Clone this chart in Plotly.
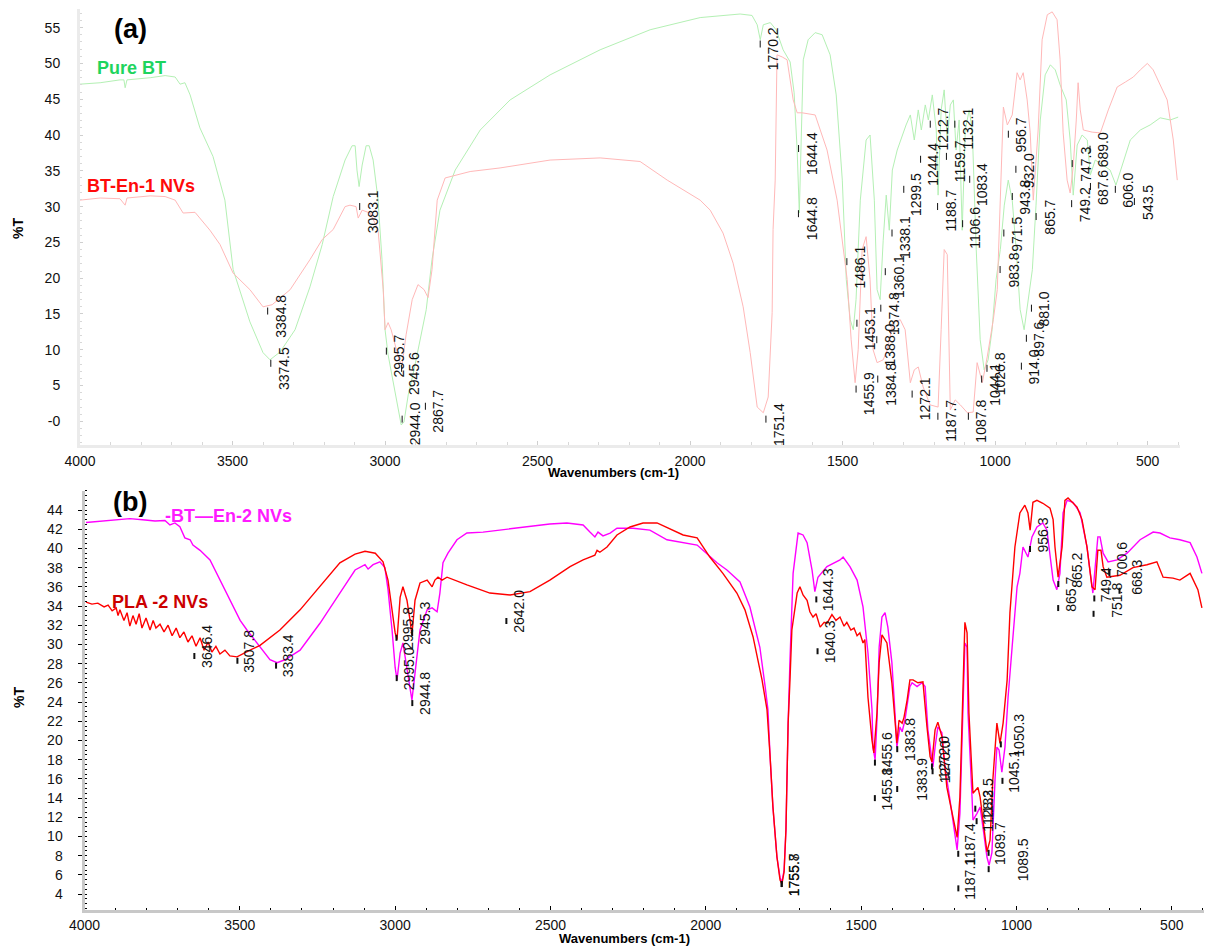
import plotly.graph_objects as go

# ---------------- panel (a): Pure BT and BT-En-1 NVs ----------------
a_pure_wn = [4000, 3934, 3869, 3856, 3852, 3846, 3770, 3721, 3688, 3672,
             3656, 3639, 3607, 3564, 3525, 3498, 3443, 3400, 3377, 3344,
             3295, 3246, 3206, 3170, 3131, 3108, 3098, 3092, 3085, 3075,
             3062, 3052, 3039, 3023, 3010, 3000, 2990, 2977, 2961, 2947,
             2938, 2924, 2905, 2885, 2865, 2846, 2820, 2770, 2688, 2590,
             2459, 2295, 2131, 1967, 1836, 1797, 1780, 1770, 1760, 1737,
             1718, 1695, 1672, 1659, 1649, 1642, 1636, 1629, 1613, 1590,
             1567, 1541, 1521, 1501, 1488, 1475, 1465, 1456, 1442, 1423,
             1410, 1396, 1387, 1377, 1367, 1357, 1347, 1337, 1321, 1305,
             1292, 1278, 1265, 1252, 1242, 1229, 1219, 1206, 1193, 1187,
             1177, 1167, 1157, 1147, 1137, 1128, 1118, 1108, 1098, 1085,
             1075, 1062, 1049, 1036, 1023, 1010, 997, 983, 970, 957,
             944, 931, 918, 905, 891, 878, 866, 852, 836, 819,
             803, 787, 767, 754, 744, 731, 715, 698, 688, 672,
             646, 623, 604, 583, 557, 524, 492, 459, 426, 400]
a_pure_T = [47.1, 47.3, 47.7, 47.7, 46.6, 47.7, 48.0, 48.3, 48.1, 47.1,
            47.3, 45.6, 41.0, 37.0, 30.9, 21.2, 13.9, 9.6, 8.6, 9.7,
            12.8, 18.8, 24.7, 31.4, 36.5, 38.5, 38.5, 35.1, 32.8, 35.8,
            38.5, 38.5, 36.5, 31.0, 22.6, 12.8, 9.3, 6.5, 3.0, -0.5,
            -0.1, 3.7, 7.2, 11.4, 15.6, 22.6, 29.5, 35.1, 40.7, 44.9,
            48.4, 51.9, 54.7, 56.4, 56.9, 56.7, 55.4, 53.3, 55.4, 55.7,
            54.7, 51.9, 50.2, 45.9, 37.9, 29.1, 37.9, 50.5, 53.3, 54.3,
            54.0, 51.2, 45.6, 33.7, 19.8, 14.2, 12.8, 17.0, 30.9, 39.3,
            40.0, 30.9, 18.4, 17.0, 25.3, 31.6, 26.7, 35.1, 37.9, 40.0,
            41.4, 42.8, 39.3, 43.5, 40.7, 44.2, 42.1, 45.6, 40.7, 31.6,
            43.5, 46.3, 39.3, 44.2, 44.9, 37.9, 42.1, 26.7, 40.7, 43.5,
            40.7, 24.0, 11.4, 7.2, 8.6, 12.8, 19.8, 24.0, 30.2, 33.7,
            30.9, 24.0, 15.6, 12.8, 17.0, 21.2, 30.2, 42.1, 48.4, 49.8,
            49.1, 47.0, 44.9, 39.3, 31.6, 38.6, 40.0, 39.3, 34.4, 36.5,
            35.8, 35.1, 33.0, 35.8, 39.3, 40.7, 41.4, 42.4, 42.1, 42.5]

a_en1_wn = [4000, 3934, 3869, 3852, 3846, 3770, 3721, 3688, 3662, 3623,
            3574, 3541, 3498, 3443, 3400, 3370, 3311, 3246, 3206, 3170,
            3131, 3115, 3095, 3088, 3075, 3049, 3023, 3006, 3000, 2990,
            2980, 2967, 2954, 2944, 2931, 2911, 2892, 2872, 2859, 2846,
            2829, 2803, 2721, 2623, 2459, 2295, 2164, 2075, 1967, 1934,
            1892, 1859, 1826, 1803, 1780, 1760, 1744, 1731, 1728, 1721,
            1715, 1698, 1682, 1662, 1649, 1633, 1590, 1551, 1518, 1485,
            1472, 1459, 1449, 1436, 1423, 1410, 1400, 1387, 1367, 1354,
            1334, 1311, 1295, 1278, 1265, 1252, 1236, 1213, 1187, 1177,
            1167, 1157, 1147, 1131, 1114, 1091, 1072, 1059, 1042, 1026,
            1006, 993, 983, 973, 960, 944, 928, 918, 908, 895,
            885, 875, 859, 846, 829, 813, 797, 787, 777, 764,
            754, 744, 734, 728, 721, 711, 682, 655, 629, 600,
            573, 547, 524, 501, 482, 459, 436, 416, 403]
a_en1_T = [30.9, 31.2, 31.1, 30.2, 31.2, 31.5, 31.4, 30.9, 29.1, 29.2,
           26.7, 24.7, 20.7, 18.4, 16.0, 16.3, 18.4, 22.6, 25.4, 26.8,
           30.0, 30.2, 30.0, 28.4, 29.5, 29.1, 26.8, 18.4, 12.8, 13.8,
           12.8, 10.7, 8.6, 7.9, 12.1, 17.0, 19.1, 18.4, 17.3, 21.2,
           30.9, 34.0, 34.9, 35.4, 36.5, 36.8, 36.3, 33.7, 30.9, 29.5,
           26.3, 22.1, 16.0, 9.6, 2.0, 1.2, 3.4, 15.2, 26.8, 33.7,
           51.2, 50.9, 50.5, 44.9, 43.1, 43.1, 42.8, 37.9, 30.9, 19.8,
           11.4, 5.4, 10.0, 24.0, 25.8, 19.8, 10.0, 8.2, 8.6, 10.0,
           13.8, 14.2, 12.8, 5.4, 7.2, 7.6, 4.8, 2.3, 2.0, 12.8,
           24.0, 23.3, 1.6, 3.0, 2.3, 1.2, 1.3, 8.2, 5.4, 9.0,
           14.2, 18.4, 32.3, 43.9, 41.4, 42.8, 48.7, 47.7, 48.7, 44.9,
           40.3, 30.9, 40.7, 53.3, 56.8, 57.2, 56.1, 50.5, 40.3, 33.7,
           31.9, 35.6, 42.1, 47.3, 43.5, 40.7, 40.4, 40.3, 43.5, 46.7,
           47.4, 48.1, 49.1, 50.0, 49.1, 47.0, 44.9, 39.3, 33.7]

a_peak_wn = [3384.8, 3374.5, 3083.1, 2995.7, 2944.0, 2945.6, 2867.7, 1770.2, 1751.4, 1644.4,
             1644.8, 1486.1, 1455.9, 1453.1, 1388.0, 1384.8, 1374.8, 1360.1, 1338.1, 1299.5,
             1272.1, 1244.4, 1212.7, 1188.7, 1187.7, 1159.7, 1132.1, 1106.6, 1083.4, 1087.8,
             1044.1, 1026.8, 983.8, 971.5, 956.7, 943.8, 932.0, 914.0, 897.6, 881.0,
             865.7, 749.2, 747.3, 689.0, 687.6, 606.0, 543.5]
a_peak_T = [15.9, 8.6, 30.5, 10.3, 0.8, 7.9, 2.6, 53.2, 0.8, 38.6,
            29.5, 22.8, 5.0, 14.2, 11.9, 6.4, 16.3, 21.4, 26.8, 32.9,
            4.3, 37.1, 42.0, 30.5, 1.2, 37.5, 42.0, 28.1, 34.3, 1.2,
            6.4, 7.9, 21.7, 26.8, 40.6, 31.9, 35.7, 8.2, 12.1, 16.3,
            29.1, 30.9, 36.5, 38.5, 33.3, 32.9, 31.2]

a_xticks = [4000, 3500, 3000, 2500, 2000, 1500, 1000, 500]
a_yticks = [0, 5, 10, 15, 20, 25, 30, 35, 40, 45, 50, 55]
a_yticktext = ["-0", "5", "10", "15", "20", "25", "30", "35", "40", "45", "50", "55"]

# ---------------- panel (b): BT-En-2 NVs and PLA-2 NVs ----------------
b_en2_wn = [3995, 3950, 3902, 3854, 3805, 3773, 3741, 3725, 3709, 3693,
            3677, 3660, 3651, 3628, 3596, 3564, 3532, 3499, 3477, 3445,
            3403, 3380, 3355, 3306, 3242, 3178, 3129, 3097, 3087, 3071,
            3049, 3033, 3023, 3010, 3000, 2994, 2984, 2975, 2962, 2946,
            2936, 2920, 2897, 2881, 2865, 2856, 2846, 2830, 2801, 2769,
            2717, 2608, 2502, 2447, 2395, 2373, 2357, 2347, 2331, 2308,
            2286, 2234, 2180, 2125, 2073, 2028, 2009, 1964, 1932, 1890,
            1858, 1826, 1809, 1800, 1793, 1784, 1771, 1761, 1755, 1748,
            1742, 1739, 1735, 1729, 1719, 1703, 1687, 1674, 1658, 1649,
            1639, 1610, 1568, 1558, 1536, 1513, 1494, 1478, 1465, 1462,
            1455, 1449, 1442, 1433, 1423, 1414, 1401, 1391, 1385, 1375,
            1368, 1359, 1352, 1343, 1336, 1320, 1304, 1294, 1285, 1275,
            1269, 1262, 1253, 1240, 1230, 1214, 1198, 1191, 1182, 1172,
            1166, 1159, 1156, 1143, 1140, 1127, 1117, 1108, 1095, 1088,
            1079, 1069, 1063, 1056, 1047, 1037, 1027, 1014, 998, 989,
            979, 963, 950, 934, 915, 902, 892, 882, 870, 860,
            850, 837, 818, 795, 773, 757, 754, 738, 731, 721,
            705, 676, 644, 602, 560, 538, 506, 474, 441, 419,
            403]
b_en2_T = [42.7, 42.85, 42.96, 43.1, 42.96, 42.85, 42.9, 42.44, 42.65, 42.26,
           41.1, 40.9, 40.35, 39.8, 38.8, 36.7, 34.6, 32.5, 31.5, 30.15,
           28.4, 28.1, 28.4, 29.4, 32.2, 35.35, 37.75, 38.3, 37.85, 38.3,
           38.6, 38.0, 35.7, 31.5, 27.6, 26.3, 29.1, 30.15, 27.6, 24.2,
           27.0, 31.5, 33.6, 33.8, 33.4, 35.35, 38.5, 39.5, 40.9, 41.6,
           41.7, 42.1, 42.54, 42.65, 42.44, 41.7, 41.2, 41.7, 41.3, 41.6,
           42.1, 42.1, 41.9, 40.9, 40.6, 40.35, 39.8, 38.5, 37.75, 36.5,
           33.9, 29.7, 25.6, 23.2, 18.3, 13.06, 7.85, 5.7, 5.25, 6.5,
           10.7, 16.6, 21.8, 28.4, 37.4, 41.6, 41.4, 40.6, 37.75, 35.5,
           37.0, 38.1, 38.8, 39.1, 38.1, 36.7, 33.9, 29.1, 23.2, 19.3,
           18.0, 22.1, 29.7, 32.85, 33.3, 31.8, 28.1, 22.85, 19.3, 21.4,
           20.9, 22.1, 23.5, 25.6, 26.0, 25.6, 26.0, 25.6, 21.1, 18.3,
           17.2, 19.3, 21.4, 20.8, 17.2, 13.8, 10.35, 8.6, 12.4, 22.85,
           30.15, 29.7, 22.85, 14.1, 11.7, 12.4, 13.06, 11.0, 7.85, 7.0,
           8.3, 15.9, 19.3, 19.0, 16.7, 19.3, 24.5, 29.7, 36.0, 37.4,
           40.15, 39.1, 41.2, 42.23, 42.65, 41.9, 39.1, 36.7, 35.7, 37.4,
           43.7, 45.0, 44.8, 43.7, 40.15, 36.0, 35.35, 41.2, 41.2, 39.5,
           38.6, 38.8, 39.5, 40.9, 41.7, 41.6, 41.1, 40.9, 40.6, 39.1,
           37.4]

b_pla_wn = [3995, 3976, 3957, 3937, 3924, 3911, 3898, 3892, 3886, 3873,
            3863, 3854, 3844, 3834, 3824, 3815, 3802, 3789, 3779, 3770,
            3757, 3744, 3731, 3718, 3705, 3693, 3680, 3667, 3654, 3641,
            3628, 3615, 3602, 3590, 3577, 3564, 3548, 3532, 3509, 3493,
            3467, 3435, 3371, 3306, 3242, 3178, 3129, 3097, 3064, 3039,
            3023, 3010, 3000, 2994, 2984, 2975, 2962, 2952, 2946, 2936,
            2920, 2897, 2881, 2872, 2862, 2849, 2833, 2769, 2695, 2630,
            2566, 2502, 2437, 2395, 2357, 2350, 2341, 2318, 2286, 2244,
            2202, 2157, 2073, 2028, 1987, 1945, 1900, 1874, 1848, 1819,
            1803, 1793, 1784, 1771, 1761, 1755, 1748, 1742, 1739, 1735,
            1729, 1723, 1706, 1697, 1687, 1674, 1665, 1655, 1645, 1632,
            1619, 1610, 1594, 1581, 1568, 1555, 1546, 1533, 1523, 1513,
            1504, 1494, 1488, 1478, 1465, 1459, 1449, 1442, 1433, 1417,
            1401, 1391, 1385, 1378, 1368, 1362, 1352, 1343, 1333, 1317,
            1301, 1288, 1278, 1272, 1262, 1253, 1240, 1224, 1204, 1191,
            1182, 1172, 1166, 1159, 1153, 1140, 1124, 1117, 1108, 1095,
            1085, 1076, 1063, 1059, 1053, 1043, 1030, 1021, 1005, 989,
            973, 963, 956, 947, 934, 915, 892, 882, 876, 866,
            853, 844, 834, 805, 789, 773, 757, 747, 738, 728,
            721, 709, 667, 625, 580, 548, 528, 496, 474, 441,
            425, 416, 403]
b_pla_T = [34.4, 34.2, 34.3, 33.9, 34.1, 33.5, 33.8, 33.0, 33.6, 32.5,
           33.3, 31.9, 33.0, 32.1, 33.2, 31.7, 32.75, 31.5, 32.5, 31.7,
           32.1, 31.3, 32.0, 30.9, 31.7, 30.7, 31.3, 30.25, 30.9, 29.8,
           30.7, 29.4, 30.25, 29.2, 29.8, 29.0, 29.4, 28.8, 28.7, 29.0,
           29.4, 29.9, 31.5, 33.6, 36.0, 38.5, 39.4, 39.7, 39.5, 38.6,
           36.7, 33.3, 31.2, 30.5, 34.9, 36.0, 34.6, 32.5, 31.0, 34.6,
           36.4, 36.7, 36.0, 36.7, 37.0, 36.7, 37.0, 36.2, 35.35, 35.15,
           35.5, 36.7, 38.1, 38.8, 39.3, 39.8, 39.6, 40.15, 41.4, 42.23,
           42.65, 42.65, 41.4, 41.1, 39.1, 37.4, 35.35, 33.6, 30.8, 26.3,
           23.2, 18.3, 13.1, 7.85, 5.46, 5.04, 6.3, 10.7, 16.6, 21.8,
           26.3, 31.5, 35.35, 36.0, 35.15, 34.6, 33.4, 32.85, 33.2, 31.8,
           32.3, 32.2, 33.1, 32.5, 32.85, 31.9, 32.3, 31.5, 31.7, 30.9,
           31.2, 30.15, 30.5, 24.5, 20.0, 18.7, 22.85, 28.1, 31.0, 30.15,
           26.0, 22.1, 19.7, 22.1, 21.8, 22.4, 24.2, 26.3, 26.3, 26.0,
           26.1, 21.4, 18.3, 17.75, 21.1, 21.9, 20.4, 15.1, 11.7, 9.9,
           14.1, 26.3, 32.3, 31.2, 22.85, 14.5, 15.1, 14.1, 11.7, 8.4,
           9.6, 15.9, 21.8, 21.1, 19.7, 21.8, 26.3, 33.3, 40.15, 43.7,
           44.5, 43.7, 41.9, 44.8, 45.0, 44.7, 44.2, 43.0, 40.15, 37.0,
           40.15, 45.0, 45.25, 44.3, 43.0, 40.15, 36.0, 35.7, 39.8, 39.8,
           38.1, 37.0, 37.2, 38.0, 38.3, 38.6, 37.0, 36.9, 36.7, 37.4,
           36.4, 35.7, 33.8]

b_peak_wn = [3646.4, 3507.8, 3383.4, 2995.0, 2995.8, 2944.8, 2945.3, 2642.0, 1755.7, 1755.8,
             1644.3, 1640.3, 1455.6, 1455.8, 1383.8, 1383.9, 1272.0, 1270.0, 1187.4, 1187.1,
             1132.5, 1128.3, 1089.7, 1089.5, 1050.3, 1045.1, 956.3, 865.7, 865.2, 749.4,
             751.8, 700.6, 668.3]
b_peak_T = [29.1, 28.6, 28.1, 26.8, 31.0, 24.2, 31.5, 32.75, 5.35, 5.35,
            35.0, 29.6, 18.0, 14.3, 19.4, 15.25, 17.6, 17.1, 8.5, 4.9,
            13.2, 11.9, 8.6, 6.9, 19.9, 16.1, 40.25, 34.1, 36.6, 35.1,
            33.5, 37.75, 35.9]

b_xticks = [4000, 3500, 3000, 2500, 2000, 1500, 1000, 500]
b_yticks = [4, 6, 8, 10, 12, 14, 16, 18, 20, 22, 24, 26, 28, 30, 32, 34, 36, 38, 40, 42, 44]

# sideways nudges (px) for labels that were pushed aside in crowded spots
label_nudge_px = {1383.9: 12, 1089.5: 22, 865.2: 6, 751.8: 12, 1050.3: 6, 668.3: 6}

W, H = 1206, 946
FONT = "Liberation Sans, Arial, Helvetica, sans-serif"


def px_x(p):
    return p / W


def px_y(p):
    return 1 - p / H


fig = go.Figure()

fig.add_trace(go.Scatter(x=a_pure_wn, y=a_pure_T, mode="lines", xaxis="x", yaxis="y",
                         line=dict(color="#b4f0b4", width=1), hoverinfo="skip"))
fig.add_trace(go.Scatter(x=a_en1_wn, y=a_en1_T, mode="lines", xaxis="x", yaxis="y",
                         line=dict(color="#ffb8b8", width=1), hoverinfo="skip"))
fig.add_trace(go.Scatter(x=b_en2_wn, y=b_en2_T, mode="lines", xaxis="x2", yaxis="y2",
                         line=dict(color="#ff00ff", width=1.4), hoverinfo="skip"))
fig.add_trace(go.Scatter(x=b_pla_wn, y=b_pla_T, mode="lines", xaxis="x2", yaxis="y2",
                         line=dict(color="#ff0000", width=1.4), hoverinfo="skip"))

shapes = []
annotations = []


def add_peaks(wns, ts, xref, yref, tick_len, tick_w, lift, xshift, nudges):
    for wn, t in zip(wns, ts):
        shapes.append(dict(type="line", xref=xref, yref=yref, xsizemode="scaled",
                           ysizemode="pixel", yanchor=t, x0=wn, x1=wn, y0=0, y1=-tick_len,
                           line=dict(color="#111", width=tick_w), layer="above"))
        annotations.append(dict(x=wn, y=t, xref=xref, yref=yref, text=f"{wn:.1f}",
                                textangle=-90, showarrow=False, xanchor="left", yanchor="top",
                                xshift=xshift + nudges.get(wn, 0),
                                yshift=lift, font=dict(family=FONT, size=14, color="#111")))


add_peaks(a_peak_wn, a_peak_T, "x", "y", 7, 1, 15, 3, {})
add_peaks(b_peak_wn, b_peak_T, "x2", "y2", 6, 2, 30, 2, label_nudge_px)


def text_px(txt, cx, cy, size, color, bold=True, angle=0):
    annotations.append(dict(x=px_x(cx), y=px_y(cy), xref="paper", yref="paper",
                            text=f"<b>{txt}</b>" if bold else txt, showarrow=False,
                            textangle=angle, xanchor="center", yanchor="middle",
                            font=dict(family=FONT, size=size, color=color)))


text_px("(a)", 130, 29, 27, "#000")
text_px("(b)", 130, 502, 27, "#000")
text_px("Pure BT", 131, 68, 18, "#1ed45e")
text_px("BT-En-1 NVs", 141, 186, 18, "#ff0a0a")
text_px("-BT\u2014En-2 NVs", 228, 516, 18, "#ff1aff")
text_px("PLA -2 NVs", 160, 602, 18, "#cc0000")
text_px("%T", 18, 229, 14, "#000", angle=-90)
text_px("%T", 19, 698, 14, "#000", angle=-90)
text_px("Wavenumbers (cm-1)", 613, 472, 13, "#000")
text_px("Wavenumbers (cm-1)", 624, 938, 13, "#000")

tickfont = dict(family=FONT, size=14, color="#111")

fig.update_layout(
    width=W, height=H, margin=dict(l=0, r=0, t=0, b=0, autoexpand=False),
    paper_bgcolor="white", plot_bgcolor="white", showlegend=False,
    font=dict(family=FONT),
    shapes=shapes, annotations=annotations,
    xaxis=dict(domain=[px_x(80), px_x(1180)], range=[4000, 394], anchor="y", automargin=False,
               tickmode="array", tickvals=a_xticks, tickfont=tickfont,
               showline=True, linecolor="#ebebeb", linewidth=3, showgrid=False, zeroline=False,
               ticks="inside", ticklen=4, tickcolor="#cfcfcf",
               minor=dict(dtick=100, tick0=0, ticks="inside", ticklen=3, tickcolor="#d8d8d8"),
               ticklabelstandoff=1),
    yaxis=dict(domain=[px_y(445), px_y(9)], range=[-3.3, 57.6], anchor="x", automargin=False,
               tickmode="array", tickvals=a_yticks, ticktext=a_yticktext, tickfont=tickfont,
               showline=True, linecolor="#ebebeb", linewidth=3, showgrid=False, zeroline=False,
               ticks="inside", ticklen=3, tickcolor="#cfcfcf",
               minor=dict(dtick=1, tick0=0, ticks="inside", ticklen=2, tickcolor="#d8d8d8"),
               ticklabelstandoff=14),
    xaxis2=dict(domain=[px_x(84.5), px_x(1204)], range=[4000, 396.3], anchor="y2", automargin=False,
                tickmode="array", tickvals=b_xticks, tickfont=tickfont,
                showline=True, linecolor="#c8c8c8", linewidth=3, showgrid=False, zeroline=False,
                ticks="inside", ticklen=4, tickcolor="#000",
                minor=dict(dtick=100, tick0=0, ticks="inside", ticklen=2, tickcolor="#000")),
    yaxis2=dict(domain=[px_y(910), px_y(490.8)], range=[2.333, 46], anchor="x2", automargin=False,
                tickmode="array", tickvals=b_yticks, tickfont=tickfont,
                showline=True, linecolor="#c8c8c8", linewidth=3, showgrid=False, zeroline=False,
                ticks="outside", ticklen=4, tickcolor="#000",
                minor=dict(dtick=0.5, tick0=0, ticks="inside", ticklen=2, tickcolor="#000"),
                ticklabelstandoff=12),
)

fig.write_html("out.html")
